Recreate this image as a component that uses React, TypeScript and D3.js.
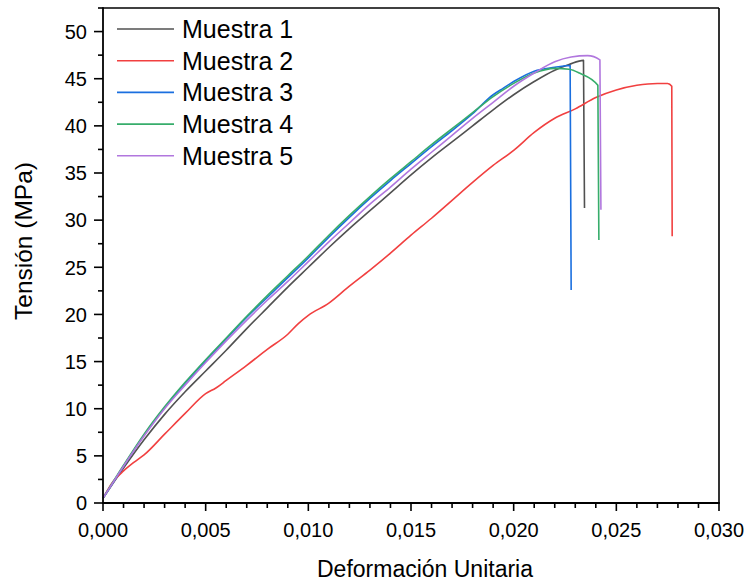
import React from "react";
import * as d3 from "d3";

const seriesNames = ["Muestra 1", "Muestra 2", "Muestra 3", "Muestra 4", "Muestra 5"];
const seriesColors = ["#515151", "#F14040", "#1A6FDF", "#37AD6B", "#B177DE"];

const strain1 = [0, 0.001, 0.002, 0.003, 0.004, 0.005, 0.006, 0.007, 0.008, 0.009, 0.010, 0.011, 0.012, 0.013, 0.014, 0.015, 0.016, 0.017, 0.018, 0.019, 0.020, 0.021, 0.022, 0.0227, 0.0234, 0.02345];
const stress1 = [0.5, 3.7, 6.7, 9.4, 11.8, 14.0, 16.2, 18.5, 20.7, 22.9, 25.0, 27.1, 29.1, 31.0, 32.9, 34.8, 36.6, 38.3, 40.0, 41.7, 43.3, 44.7, 45.9, 46.5, 46.95, 31.3];

const strain2 = [0, 0.0005, 0.001, 0.0015, 0.002, 0.003, 0.004, 0.005, 0.0055, 0.006, 0.007, 0.008, 0.009, 0.0095, 0.010, 0.011, 0.012, 0.013, 0.014, 0.015, 0.016, 0.017, 0.018, 0.019, 0.020, 0.021, 0.022, 0.023, 0.024, 0.025, 0.026, 0.027, 0.0275, 0.0277, 0.02772];
const stress2 = [0.5, 2.3, 3.4, 4.3, 5.1, 7.3, 9.5, 11.6, 12.2, 13.0, 14.6, 16.3, 17.9, 19.0, 19.9, 21.2, 23.0, 24.7, 26.5, 28.4, 30.2, 32.1, 34.0, 35.8, 37.4, 39.3, 40.8, 41.8, 43.0, 43.8, 44.3, 44.5, 44.5, 44.2, 28.3];

const strain3 = [0, 0.001, 0.002, 0.003, 0.004, 0.005, 0.006, 0.007, 0.008, 0.009, 0.010, 0.011, 0.012, 0.013, 0.014, 0.015, 0.016, 0.017, 0.018, 0.019, 0.0195, 0.020, 0.021, 0.022, 0.02275, 0.0228];
const stress3 = [0.5, 3.9, 7.2, 10.1, 12.7, 15.1, 17.4, 19.7, 21.8, 23.9, 26.0, 28.2, 30.3, 32.3, 34.2, 36.0, 37.8, 39.5, 41.3, 43.3, 44.0, 44.7, 45.8, 46.2, 46.4, 22.6];

const strain4 = [0, 0.001, 0.002, 0.003, 0.004, 0.005, 0.006, 0.007, 0.008, 0.009, 0.010, 0.011, 0.012, 0.013, 0.014, 0.015, 0.016, 0.017, 0.018, 0.019, 0.020, 0.021, 0.022, 0.0227, 0.0232, 0.0241, 0.02415];
const stress4 = [0.5, 4.0, 7.3, 10.2, 12.8, 15.2, 17.5, 19.8, 22.0, 24.1, 26.2, 28.4, 30.5, 32.5, 34.4, 36.2, 38.0, 39.7, 41.4, 43.1, 44.5, 45.6, 46.1, 46.0, 45.6, 44.3, 27.9];

const strain5 = [0, 0.001, 0.002, 0.003, 0.004, 0.005, 0.006, 0.007, 0.008, 0.009, 0.010, 0.011, 0.012, 0.013, 0.014, 0.015, 0.016, 0.017, 0.018, 0.019, 0.020, 0.021, 0.022, 0.0228, 0.0236, 0.0242, 0.02425];
const stress5 = [0.5, 3.9, 7.1, 10.0, 12.5, 14.9, 17.2, 19.4, 21.5, 23.5, 25.6, 27.7, 29.7, 31.7, 33.5, 35.4, 37.2, 39.0, 40.8, 42.5, 44.2, 45.6, 46.8, 47.3, 47.45, 47.0, 31.1];

const strains = [strain1, strain2, strain3, strain4, strain5];
const stresses = [stress1, stress2, stress3, stress4, stress5];

const xTickValues = [0, 0.005, 0.01, 0.015, 0.02, 0.025, 0.03];
const yTickValues = [0, 5, 10, 15, 20, 25, 30, 35, 40, 45, 50];
const xLabel = "Deformación Unitaria";
const yLabel = "Tensión (MPa)";

const W = 747;
const H = 581;
const left = 103;
const right = 719;
const top = 8;
const bottom = 503;
const FONT = "'Liberation Sans', Arial, sans-serif";

export default function App() {
  const x = d3.scaleLinear().domain([0, 0.03]).range([left, right]);
  const y = d3.scaleLinear().domain([0, 52.5]).range([bottom, top]);
  const fmt = (v: number) => d3.format(".3f")(v).replace(".", ",");

  const xMinor = d3.range(0, 0.0300001, 0.001).filter((v) => Math.abs(Math.round(v / 0.005) * 0.005 - v) > 1e-9);
  const yMinor = d3.range(2.5, 52.6, 5);

  const line = d3
    .line<[number, number]>()
    .x((d) => x(d[0]))
    .y((d) => y(d[1]))
    .curve(d3.curveMonotoneX);

  const order = [0, 1, 2, 3, 4];

  return (
    <svg width={W} height={H} style={{ position: "absolute", left: 0, top: 0, background: "#fff" }} fontFamily={FONT}>
      <rect x={0} y={0} width={W} height={H} fill="#fff" />
      {order.map((i) => {
        const pts: [number, number][] = strains[i].map((s, k) => [s, stresses[i][k]]);
        return <path key={i} d={line(pts) || ""} fill="none" stroke={seriesColors[i]} strokeWidth={1.6} strokeLinejoin="round" />;
      })}
      {/* frame */}
      <line x1={left} y1={top} x2={right} y2={top} stroke="#000" strokeWidth={1.6} />
      <line x1={right} y1={top} x2={right} y2={bottom} stroke="#000" strokeWidth={1.6} />
      <line x1={left} y1={top - 0.8} x2={left} y2={bottom + 0.8} stroke="#000" strokeWidth={1.8} />
      <line x1={left - 0.8} y1={bottom} x2={right + 0.8} y2={bottom} stroke="#000" strokeWidth={1.8} />
      {/* x ticks */}
      {xTickValues.map((v) => (
        <g key={"xt" + v}>
          <line x1={x(v)} x2={x(v)} y1={bottom} y2={bottom + 8} stroke="#000" strokeWidth={1.6} />
          <text x={x(v)} y={537} textAnchor="middle" fontSize={20} fill="#000">
            {fmt(v)}
          </text>
        </g>
      ))}
      {xMinor.map((v) => (
        <line key={"xm" + v} x1={x(v)} x2={x(v)} y1={bottom} y2={bottom + 5} stroke="#000" strokeWidth={1.6} />
      ))}
      {/* y ticks */}
      {yTickValues.map((v) => (
        <g key={"yt" + v}>
          <line x1={left - 9} x2={left} y1={y(v)} y2={y(v)} stroke="#000" strokeWidth={1.6} />
          <text x={87} y={y(v) + 7.3} textAnchor="end" fontSize={20} fill="#000">
            {v}
          </text>
        </g>
      ))}
      {yMinor.map((v) => (
        <line key={"ym" + v} x1={left - 5} x2={left} y1={y(v)} y2={y(v)} stroke="#000" strokeWidth={1.6} />
      ))}
      {/* axis titles */}
      <text x={425} y={577} textAnchor="middle" fontSize={23} fill="#000">
        {xLabel}
      </text>
      <text transform={`translate(32,241) rotate(-90)`} textAnchor="middle" fontSize={24.5} fill="#000">
        {yLabel}
      </text>
      {/* legend */}
      {seriesNames.map((n, i) => {
        const ly = 29 + i * 31.7;
        return (
          <g key={n}>
            <line x1={117} x2={174} y1={ly} y2={ly} stroke={seriesColors[i]} strokeWidth={1.6} />
            <text x={182} y={ly + 8.8} fontSize={25} fill="#000">
              {n}
            </text>
          </g>
        );
      })}
    </svg>
  );
}
